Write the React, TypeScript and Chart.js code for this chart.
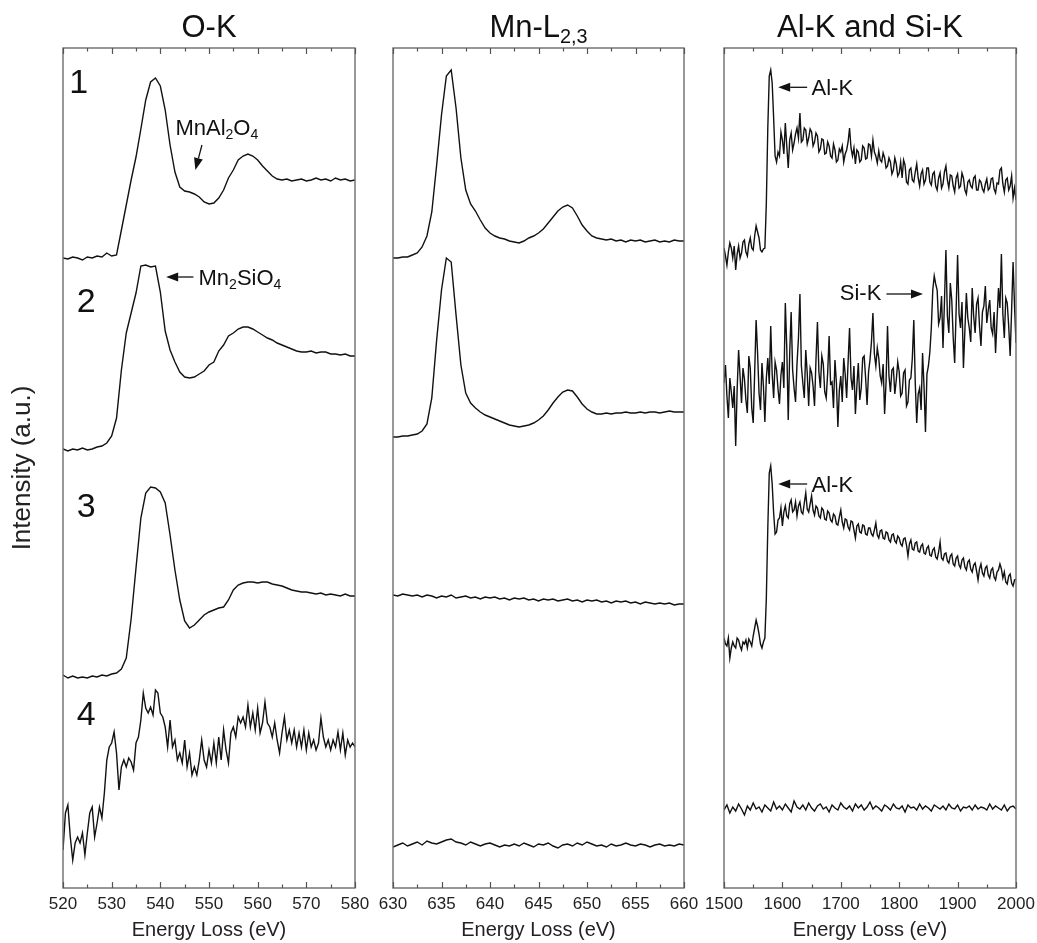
import React, { useEffect, useRef } from "react";
import { Chart, registerables } from "chart.js";

Chart.register(...registerables);

const W = 1037;
const H = 943;
const CW = W + 60; // canvas a bit wider than the page so end labels never squeeze the plot
const PLOT_TOP = 48;
const PLOT_BOTTOM = 888;
const Y_MAX = 84;
const Y_AXIS_W = 56;

const FONT = "'Liberation Sans', Arial, Helvetica, sans-serif";
const NARROW = "'Liberation Sans Narrow', 'Arial Narrow', 'Liberation Sans', Arial, sans-serif";

// ---------- O-K panel (520–580 eV) ----------
const OK_START = 520;
const OK_STEP = 1;
const OK_STEP_NOISY = 0.5;
const OK_TICKS = [520, 530, 540, 550, 560, 570, 580];

const OK_1 = [
  63.0, 62.9, 63.1, 63.0, 62.8, 63.1, 63.0, 63.2, 63.1, 63.5,
  63.2, 63.3, 65.8, 68.3, 70.8, 73.1, 75.9, 78.8, 80.6, 81.0,
  80.2, 77.8, 74.3, 71.6, 70.1, 69.7, 69.6, 69.4, 69.1, 68.6,
  68.4, 68.5, 69.0, 69.8, 71.0, 71.8, 72.8, 73.2, 73.4, 73.2,
  72.8, 72.2, 71.7, 71.2, 70.9, 70.8, 70.9, 70.7, 70.8, 70.9,
  70.7, 70.8, 71.0, 70.8, 70.9, 70.7, 71.0, 70.8, 70.9, 70.7, 70.8,
];
const OK_2 = [
  43.9, 43.7, 43.9, 43.8, 44.0, 43.8, 43.9, 44.1, 44.2, 44.5,
  45.2, 47.0, 51.8, 55.5, 57.5, 59.5, 62.2, 62.3, 62.1, 62.2,
  59.6, 55.7, 53.8, 52.6, 51.6, 51.1, 51.0, 51.1, 51.4, 51.7,
  52.3, 52.6, 53.7, 54.3, 55.2, 55.5, 55.9, 56.1, 56.1, 55.9,
  55.6, 55.3, 55.0, 54.8, 54.5, 54.3, 54.1, 53.9, 53.7, 53.6,
  53.6, 53.7, 53.5, 53.6, 53.6, 53.4, 53.4, 53.3, 53.4, 53.2, 53.2,
];
const OK_3 = [
  21.3, 21.0, 21.2, 21.0, 21.1, 21.0, 21.2, 21.1, 21.3, 21.2,
  21.4, 21.5, 21.9, 23.0, 26.9, 32.0, 37.0, 39.5, 40.1, 40.0,
  39.6, 38.5, 35.3, 31.8, 28.8, 26.7, 26.0, 26.3, 26.8, 27.3,
  27.6, 27.8, 28.0, 28.1, 28.8, 29.8, 30.3, 30.5, 30.6, 30.6,
  30.5, 30.6, 30.6, 30.4, 30.3, 30.2, 30.0, 29.8, 29.7, 29.6,
  29.6, 29.5, 29.4, 29.5, 29.3, 29.4, 29.3, 29.2, 29.4, 29.2, 29.2,
];
const OK_4 = [
  3.8, 7.5, 8.3, 5.1, 2.8, 4.5, 5.1, 4.5, 5.5, 3.3,
  5.5, 7.5, 8.1, 5.1, 6.5, 8.1, 7.0, 9.5, 12.8, 14.1,
  14.5, 15.6, 13.5, 9.8, 12.1, 12.8, 12.1, 13.0, 12.6, 11.8,
  14.5, 15.1, 16.8, 19.5, 18.0, 17.5, 18.1, 17.3, 19.8, 19.5,
  17.5, 17.1, 16.1, 14.1, 16.8, 14.1, 14.8, 12.8, 13.5, 12.5,
  14.8, 12.1, 13.5, 11.3, 12.1, 11.3, 12.8, 14.8, 12.8, 12.1,
  13.8, 12.5, 14.5, 12.5, 15.1, 12.8, 15.8, 13.8, 12.5, 15.5,
  16.1, 15.1, 17.1, 16.5, 17.1, 16.1, 18.3, 16.1, 17.5, 15.8,
  18.0, 15.5, 16.5, 18.6, 16.5, 16.1, 15.1, 16.5, 14.8, 13.5,
  15.5, 17.1, 14.8, 15.8, 14.5, 15.8, 14.1, 15.5, 14.1, 15.8,
  13.8, 15.5, 14.1, 14.8, 13.8, 14.5, 17.0, 15.1, 14.1, 14.8,
  13.8, 14.8, 14.1, 15.6, 13.8, 15.5, 13.3, 14.8, 14.1, 14.5,
  14.1,
];

// ---------- Mn-L2,3 panel (630–660 eV) ----------
const MN_START = 630;
const MN_STEP = 0.5;
const MN_TICKS = [630, 635, 640, 645, 650, 655, 660];

const MN_1 = [
  63.0, 63.0, 63.1, 63.1, 63.3, 63.5, 64.1, 65.2, 67.6, 72.3,
  77.3, 81.2, 81.8, 78.0, 73.0, 69.8, 68.4, 67.7, 66.8, 66.0,
  65.5, 65.2, 65.0, 64.9, 64.7, 64.6, 64.5, 64.7, 65.0, 65.2,
  65.5, 65.9, 66.5, 67.1, 67.7, 68.1, 68.3, 68.0, 67.2, 66.3,
  65.7, 65.2, 65.0, 64.9, 64.8, 64.9, 64.7, 64.8, 64.6, 64.8,
  64.7, 64.8, 64.6, 64.7, 64.8, 64.6, 64.7, 64.6, 64.8, 64.7,
  64.7,
];
const MN_2 = [
  45.1, 45.1, 45.2, 45.2, 45.3, 45.4, 45.7, 46.4, 49.0, 54.8,
  59.8, 63.0, 62.6, 57.3, 52.3, 49.5, 48.5, 48.0, 47.6, 47.3,
  47.1, 46.9, 46.7, 46.5, 46.3, 46.2, 46.1, 46.2, 46.3, 46.5,
  46.8, 47.2, 47.8, 48.5, 49.1, 49.6, 49.8, 49.7, 49.1, 48.4,
  47.9, 47.6, 47.4, 47.4, 47.5, 47.4, 47.5, 47.5, 47.6, 47.5,
  47.5, 47.6, 47.5, 47.6, 47.6, 47.5, 47.6, 47.7, 47.6, 47.6,
  47.6,
];
const MN_3 = [
  29.3, 29.2, 29.4, 29.3, 29.2, 29.3, 29.1, 29.3, 29.2, 29.0,
  29.2, 29.1, 29.3, 29.0, 29.1, 29.2, 29.0, 29.1, 28.9, 29.1,
  29.0, 29.1, 28.9, 29.0, 28.8, 29.0, 28.9, 29.0, 28.8, 28.9,
  28.7, 28.9, 28.8, 28.9, 28.7, 28.8, 28.9, 28.7, 28.8, 28.6,
  28.8, 28.7, 28.8, 28.6, 28.7, 28.5, 28.7, 28.6, 28.7, 28.5,
  28.6, 28.4, 28.6, 28.5, 28.4, 28.5, 28.4, 28.5, 28.3, 28.4,
  28.4,
];
const MN_4 = [
  4.1, 4.3, 4.5, 4.2, 4.4, 4.6, 4.3, 4.7, 4.5, 4.4,
  4.6, 4.8, 4.9, 4.6, 4.5, 4.3, 4.6, 4.4, 4.2, 4.4,
  4.5, 4.3, 4.1, 4.3, 4.2, 4.4, 4.2, 4.5, 4.3, 4.1,
  4.4, 4.3, 4.5, 4.2, 4.0, 4.3, 4.4, 4.2, 4.5, 4.3,
  4.6, 4.4, 4.2, 4.3, 4.1, 4.4, 4.2, 4.3, 4.5, 4.3,
  4.2, 4.4, 4.3, 4.1, 4.3, 4.4, 4.2, 4.3, 4.2, 4.4,
  4.3,
];

// ---------- Al-K and Si-K panel (1500–2000 eV) ----------
const AS_START = 1500;
const AS_STEP = 2.5;
const AS_STEP_FLAT = 5;
const AS_TICKS = [1500, 1600, 1700, 1800, 1900, 2000];

const AL_1 = [
  64.0, 63.2, 62.3, 63.6, 64.5, 64.0, 63.0, 64.2, 61.8, 63.4,
  64.2, 63.0, 63.5, 64.6, 64.8, 63.6, 63.2, 64.4, 65.0, 64.0,
  63.8, 65.2, 66.2, 65.6, 65.0, 63.8, 63.6, 63.9, 64.0, 68.5,
  76.0, 81.2, 81.8, 80.5, 77.0, 73.2, 72.6, 73.6, 73.2, 75.6,
  74.8, 73.4, 76.5, 74.2, 72.0, 74.8, 75.5, 73.8, 74.5, 75.4,
  76.0, 75.0, 77.5, 74.6, 74.8, 76.0, 75.8, 74.4, 75.0, 75.9,
  75.6, 74.2, 74.6, 75.5, 75.2, 73.6, 73.9, 74.9, 74.8, 73.4,
  73.5, 74.6, 74.2, 73.2, 73.0, 74.4, 73.8, 72.6, 72.8, 73.9,
  73.6, 74.2, 72.6, 73.4, 73.8, 74.6, 76.0, 74.0, 73.2, 74.0,
  72.4, 73.8, 73.6, 72.6, 72.8, 74.2, 74.0, 72.9, 73.0, 74.4,
  74.3, 73.2, 74.8, 73.6, 73.2, 72.5, 73.7, 72.8, 72.6, 73.5,
  73.0, 72.0, 72.2, 73.0, 72.6, 71.4, 71.8, 73.0, 72.4, 71.2,
  71.5, 72.6, 71.0, 72.8, 72.3, 70.6, 70.4, 71.8, 72.0, 70.8,
  70.6, 71.6, 72.4, 71.0, 70.2, 71.4, 71.8, 70.4, 70.8, 72.0,
  72.0, 70.6, 70.3, 71.4, 71.6, 70.2, 69.8, 71.0, 71.5, 70.0,
  70.4, 71.6, 72.2, 70.8, 70.0, 71.3, 71.2, 70.2, 69.6, 71.0,
  71.4, 70.0, 70.2, 71.5, 71.0, 69.8, 69.4, 70.6, 70.8, 70.2,
  70.0, 71.0, 71.2, 69.8, 69.8, 70.8, 70.6, 69.9, 69.6, 70.4,
  70.9, 69.8, 70.0, 70.9, 71.0, 69.9, 69.5, 70.5, 70.4, 71.8,
  72.0, 70.4, 69.6, 70.8, 71.0, 69.8, 70.2, 71.2, 69.0, 70.0,
  68.8,
];
const SI_2 = [
  50.5, 52.3, 49.2, 47.0, 51.0, 49.6, 48.0, 50.2, 44.2, 49.8,
  53.8, 51.2, 48.5, 52.0, 50.9, 48.8, 47.5, 53.2, 52.0, 48.0,
  46.5, 51.5, 56.8, 53.5, 49.5, 47.8, 52.5, 50.2, 46.6, 51.0,
  53.0, 50.4, 56.2, 51.4, 49.0, 52.6, 51.8, 49.9, 48.4, 51.3,
  52.6, 50.0, 58.5, 54.0, 46.8, 53.5, 57.6, 51.8, 50.0, 48.6,
  52.4, 55.0, 59.4, 52.2, 50.5, 49.0, 53.8, 51.5, 48.2, 52.0,
  51.5, 50.2, 48.2, 52.8, 56.6, 51.6, 50.0, 53.2, 52.4, 49.6,
  49.0, 51.5, 55.2, 50.4, 50.6, 48.0, 52.8, 50.5, 46.1, 49.8,
  51.2, 48.6, 53.0, 51.4, 49.0, 52.6, 56.0, 51.0, 49.8, 52.2,
  47.4, 50.2, 52.5, 48.8, 50.0, 53.0, 53.2, 51.0, 48.3, 51.6,
  52.8, 54.6, 57.5, 53.4, 52.2, 54.0, 53.0, 51.2, 50.5, 52.4,
  47.4, 50.6, 56.2, 51.2, 49.6, 51.8, 52.0, 49.4, 50.8, 52.6,
  51.6, 49.2, 49.5, 51.5, 51.8, 48.2, 48.6, 50.8, 51.0, 53.0,
  56.8, 50.5, 46.5, 49.4, 50.0, 47.8, 53.5, 50.2, 45.6, 51.4,
  52.2, 53.6, 56.0, 59.8, 61.2, 60.4, 59.8, 56.4, 57.0, 59.2,
  54.0, 58.6, 63.8, 57.2, 55.5, 60.5, 58.8, 55.0, 52.5, 57.8,
  63.3, 57.4, 56.0, 58.6, 52.0, 55.8, 59.5, 57.0, 56.0, 54.6,
  60.0, 57.2, 55.5, 58.4, 59.0, 56.2, 54.2, 57.6, 58.2, 60.2,
  56.5, 57.8, 58.8, 56.0, 55.4, 57.6, 53.5, 56.8, 60.0, 58.0,
  63.4, 57.4, 55.0, 59.0, 58.5, 56.2, 53.2, 57.8, 62.6, 58.2,
  54.5,
];
const AL_3 = [
  25.0, 24.4, 24.2, 25.0, 23.0, 24.0, 24.6, 24.2, 24.0, 25.0,
  24.8, 24.2, 23.8, 24.6, 24.4, 24.8, 24.0, 24.9, 24.6, 24.2,
  25.2, 26.0, 26.8, 26.2, 25.4, 24.4, 24.0, 24.6, 25.0, 29.0,
  36.0, 41.5, 42.2, 40.4, 37.5, 35.4, 35.6, 36.8, 37.0, 38.0,
  36.2, 37.6, 38.2, 37.2, 37.0, 38.4, 38.8, 37.6, 37.8, 38.6,
  37.2, 38.2, 38.6, 37.6, 37.4, 38.5, 39.5, 37.9, 37.6, 38.4,
  39.2, 37.8, 37.3, 38.2, 38.0, 37.2, 37.0, 38.0, 37.8, 36.9,
  36.8, 37.7, 37.5, 36.8, 36.6, 37.4, 37.2, 36.4, 36.3, 37.1,
  37.8, 36.6, 36.0, 36.9, 36.8, 36.1, 35.8, 36.7, 36.6, 35.8,
  35.0, 36.2, 36.4, 35.6, 35.5, 36.3, 36.2, 35.4, 35.3, 36.0,
  36.0, 35.4, 35.2, 35.8, 36.5, 35.3, 35.0, 35.7, 35.8, 35.0,
  34.9, 35.6, 35.5, 34.8, 34.6, 35.3, 35.4, 34.7, 34.5, 35.2,
  35.0, 34.4, 34.2, 34.9, 35.0, 34.3, 33.2, 34.4, 34.8, 33.9,
  33.8, 34.5, 34.6, 33.7, 33.6, 34.2, 34.4, 33.5, 33.4, 34.0,
  34.2, 33.3, 33.2, 33.8, 34.0, 33.1, 32.9, 33.6, 34.6, 33.0,
  32.8, 33.4, 33.5, 32.7, 32.5, 33.2, 33.4, 32.4, 32.2, 33.0,
  33.2, 32.3, 32.0, 32.8, 33.0, 32.1, 31.8, 32.6, 32.8, 31.9,
  31.6, 32.3, 32.5, 31.7, 30.8, 31.9, 32.4, 31.5, 31.2, 32.0,
  32.2, 31.3, 31.0, 31.8, 32.0, 31.1, 30.8, 31.6, 31.8, 32.4,
  31.9, 31.0, 31.6, 30.6, 30.4, 31.2, 31.4, 30.5, 30.2, 30.8,
  30.9,
];
const AL_4 = [
  7.8, 8.3, 7.5, 8.1, 7.7, 8.4, 7.9, 7.3, 8.2, 7.8,
  8.5, 7.9, 8.1, 7.6, 8.3, 8.0, 7.7, 8.6, 7.9, 8.2,
  7.8, 8.4, 8.0, 7.6, 8.7, 8.1, 7.9, 8.3, 7.8, 8.5,
  8.0, 7.7, 8.2, 8.4, 7.9, 8.1, 7.6, 8.3, 8.0, 7.8,
  8.5, 8.1, 7.9, 8.2, 7.7, 8.4, 8.0, 8.3, 7.8, 8.1,
  8.6, 7.9, 8.2, 8.0, 7.7, 8.3, 8.1, 7.8, 8.4, 8.0,
  7.9, 8.2, 7.6, 8.3, 8.0, 8.1, 7.8, 8.4, 7.9, 8.2,
  8.0, 7.7, 8.3, 8.1, 7.9, 8.2, 7.8, 8.4, 8.0, 7.9,
  8.3, 7.7, 8.1, 8.0, 8.2, 7.8, 8.3, 7.9, 8.1, 8.0,
  7.8, 8.4, 7.9, 8.2, 8.0, 7.8, 8.3, 7.7, 8.1, 8.2,
  7.9,
];

type Part = [string, boolean];
type Ann =
  | { kind: "text"; x: number; y: number; parts: Part[]; size: number }
  | { kind: "arrow"; x1: number; y1: number; x2: number; y2: number };

type Series = { start: number; step: number; values: number[] };
type Panel = {
  left: number;
  right: number;
  min: number;
  max: number;
  ticks: number[];
  title: Part[];
  yTitle: boolean;
  series: Series[];
  annotations: Ann[];
};

const PANELS: Panel[] = [
  {
    left: 63,
    right: 355,
    min: 520,
    max: 580,
    ticks: OK_TICKS,
    title: [["O-K", false]],
    yTitle: true,
    series: [
      { start: OK_START, step: OK_STEP, values: OK_1 },
      { start: OK_START, step: OK_STEP, values: OK_2 },
      { start: OK_START, step: OK_STEP, values: OK_3 },
      { start: OK_START, step: OK_STEP_NOISY, values: OK_4 },
    ],
    annotations: [
      { kind: "text", x: 521.3, y: 79.5, parts: [["1", false]], size: 34 },
      { kind: "text", x: 522.8, y: 57.6, parts: [["2", false]], size: 34 },
      { kind: "text", x: 522.8, y: 37.1, parts: [["3", false]], size: 34 },
      { kind: "text", x: 522.8, y: 16.3, parts: [["4", false]], size: 34 },
      {
        kind: "text",
        x: 543.1,
        y: 75.3,
        parts: [["MnAl", false], ["2", true], ["O", false], ["4", true]],
        size: 22,
      },
      { kind: "arrow", x1: 548.55, y1: 74.3, x2: 547.2, y2: 71.8 },
      {
        kind: "text",
        x: 547.85,
        y: 60.3,
        parts: [["Mn", false], ["2", true], ["SiO", false], ["4", true]],
        size: 22,
      },
      { kind: "arrow", x1: 546.8, y1: 61.1, x2: 541.2, y2: 61.1 },
    ],
  },
  {
    left: 393,
    right: 684,
    min: 630,
    max: 660,
    ticks: MN_TICKS,
    title: [["Mn-L", false], ["2,3", true]],
    yTitle: false,
    series: [
      { start: MN_START, step: MN_STEP, values: MN_1 },
      { start: MN_START, step: MN_STEP, values: MN_2 },
      { start: MN_START, step: MN_STEP, values: MN_3 },
      { start: MN_START, step: MN_STEP, values: MN_4 },
    ],
    annotations: [],
  },
  {
    left: 724,
    right: 1016,
    min: 1500,
    max: 2000,
    ticks: AS_TICKS,
    title: [["Al-K and Si-K", false]],
    yTitle: false,
    series: [
      { start: AS_START, step: AS_STEP, values: AL_1 },
      { start: AS_START, step: AS_STEP, values: SI_2 },
      { start: AS_START, step: AS_STEP, values: AL_3 },
      { start: AS_START, step: AS_STEP_FLAT, values: AL_4 },
    ],
    annotations: [
      { kind: "arrow", x1: 1642.4, y1: 80.07, x2: 1592.8, y2: 80.07 },
      { kind: "text", x: 1649.9, y: 79.3, parts: [["Al-K", false]], size: 22 },
      { kind: "arrow", x1: 1642.4, y1: 40.4, x2: 1592.8, y2: 40.4 },
      { kind: "text", x: 1649.9, y: 39.6, parts: [["Al-K", false]], size: 22 },
      { kind: "text", x: 1698.3, y: 58.8, parts: [["Si-K", false]], size: 22 },
      { kind: "arrow", x1: 1778.1, y1: 59.4, x2: 1840.7, y2: 59.4 },
    ],
  },
];

function drawRich(
  ctx: CanvasRenderingContext2D,
  parts: Part[],
  x: number,
  y: number,
  size: number,
  align: "left" | "center"
) {
  const subSize = size * 0.64;
  const widths = parts.map(([t, sub]) => {
    ctx.font = `${sub ? subSize : size}px ${FONT}`;
    return ctx.measureText(t).width;
  });
  const total = widths.reduce((a, b) => a + b, 0);
  let cx = align === "center" ? x - total / 2 : x;
  ctx.textAlign = "left";
  ctx.textBaseline = "alphabetic";
  parts.forEach(([t, sub], i) => {
    ctx.font = `${sub ? subSize : size}px ${FONT}`;
    ctx.fillText(t, cx, sub ? y + size * 0.2 : y);
    cx += widths[i];
  });
}

function drawArrow(ctx: CanvasRenderingContext2D, x1: number, y1: number, x2: number, y2: number) {
  const ang = Math.atan2(y2 - y1, x2 - x1);
  const hl = 12;
  const hw = 4.5;
  const bx = x2 - hl * Math.cos(ang);
  const by = y2 - hl * Math.sin(ang);
  ctx.beginPath();
  ctx.moveTo(x1, y1);
  ctx.lineTo(bx, by);
  ctx.lineWidth = 1.3;
  ctx.stroke();
  ctx.beginPath();
  ctx.moveTo(x2, y2);
  ctx.lineTo(bx + hw * Math.sin(ang), by - hw * Math.cos(ang));
  ctx.lineTo(bx - hw * Math.sin(ang), by + hw * Math.cos(ang));
  ctx.closePath();
  ctx.fill();
}

const decorPlugin = {
  id: "panelDecor",
  afterDraw(chart: any, _args: any, opts: any) {
    const p: Panel = opts.panel;
    if (!p) return;
    const { ctx, chartArea: a, scales } = chart;
    const xs = scales.x;
    const ys = scales.y;
    ctx.save();
    // frame
    ctx.strokeStyle = "#6d6d6d";
    ctx.lineWidth = 1.4;
    ctx.strokeRect(a.left, a.top, a.right - a.left, a.bottom - a.top);
    // inward ticks (major + minor) on top and bottom
    ctx.lineWidth = 1.2;
    ctx.strokeStyle = "#555";
    const major = p.ticks;
    const half = (major[1] - major[0]) / 2;
    const all: [number, boolean][] = [];
    major.forEach((v, i) => {
      all.push([v, true]);
      if (i < major.length - 1) all.push([v + half, false]);
    });
    all.forEach(([v, isMajor]) => {
      const px = Math.round(xs.getPixelForValue(v)) + 0.5;
      const len = isMajor ? 6 : 3.5;
      ctx.beginPath();
      ctx.moveTo(px, a.bottom);
      ctx.lineTo(px, a.bottom - len);
      ctx.moveTo(px, a.top);
      ctx.lineTo(px, a.top + len);
      ctx.stroke();
    });
    // panel title
    ctx.fillStyle = "#111";
    drawRich(ctx, p.title, (a.left + a.right) / 2, 37, 31, "center");
    // annotations
    ctx.strokeStyle = "#111";
    p.annotations.forEach((an) => {
      if (an.kind === "text") {
        drawRich(ctx, an.parts, xs.getPixelForValue(an.x), ys.getPixelForValue(an.y), an.size, "left");
      } else {
        drawArrow(
          ctx,
          xs.getPixelForValue(an.x1),
          ys.getPixelForValue(an.y1),
          xs.getPixelForValue(an.x2),
          ys.getPixelForValue(an.y2)
        );
      }
    });
    ctx.restore();
  },
};

function makeConfig(p: Panel): any {
  const yScale: any = {
    type: "linear",
    min: 0,
    max: Y_MAX,
    display: p.yTitle,
    grid: { display: false, drawTicks: false },
    border: { display: false },
    ticks: { display: false },
    title: {
      display: p.yTitle,
      text: "Intensity (a.u.)",
      font: { family: FONT, size: 26 },
      color: "#222",
      padding: 0,
    },
  };
  if (p.yTitle) {
    yScale.afterFit = (scale: any) => {
      scale.width = Y_AXIS_W;
    };
  }
  return {
    type: "line",
    data: {
      datasets: p.series.map((s) => ({
        data: s.values.map((v, i) => ({ x: s.start + i * s.step, y: v })),
        borderColor: "#111",
        borderWidth: 1.4,
        pointRadius: 0,
        tension: 0,
        fill: false,
      })),
    },
    options: {
      responsive: false,
      animation: false,
      events: [],
      layout: {
        padding: {
          left: p.yTitle ? p.left - Y_AXIS_W : p.left,
          right: CW - p.right,
          top: PLOT_TOP,
          bottom: 0,
        },
      },
      plugins: {
        legend: { display: false },
        tooltip: { enabled: false },
        panelDecor: { panel: p },
      },
      scales: {
        x: {
          type: "linear",
          position: "bottom",
          min: p.min,
          max: p.max,
          afterBuildTicks: (scale: any) => {
            scale.ticks = p.ticks.map((v) => ({ value: v }));
          },
          grid: { display: false, drawTicks: false },
          border: { display: false },
          ticks: {
            font: { family: NARROW, size: 17 },
            color: "#222",
            padding: 6,
            maxRotation: 0,
            autoSkip: false,
            callback: (v: any) => String(v),
          },
          title: {
            display: true,
            text: "Energy Loss (eV)",
            font: { family: FONT, size: 20 },
            color: "#222",
            padding: { top: 0, bottom: 1 },
          },
          afterFit: (scale: any) => {
            scale.height = H - PLOT_BOTTOM;
          },
        },
        y: yScale,
      },
    },
    plugins: [decorPlugin],
  };
}

export default function App() {
  const r0 = useRef<HTMLCanvasElement>(null);
  const r1 = useRef<HTMLCanvasElement>(null);
  const r2 = useRef<HTMLCanvasElement>(null);
  useEffect(() => {
    const refs = [r0, r1, r2];
    const charts = PANELS.map((p, i) => new Chart(refs[i].current as HTMLCanvasElement, makeConfig(p)));
    return () => charts.forEach((c) => c.destroy());
  }, []);
  const refs = [r0, r1, r2];
  return (
    <div
      style={{
        position: "absolute",
        left: 0,
        top: 0,
        width: W,
        height: H,
        overflow: "hidden",
        background: "#fff",
      }}
    >
      {PANELS.map((_, i) => (
        <canvas
          key={i}
          ref={refs[i]}
          width={CW}
          height={H}
          style={{ position: "absolute", left: 0, top: 0, width: CW, height: H }}
        />
      ))}
    </div>
  );
}
